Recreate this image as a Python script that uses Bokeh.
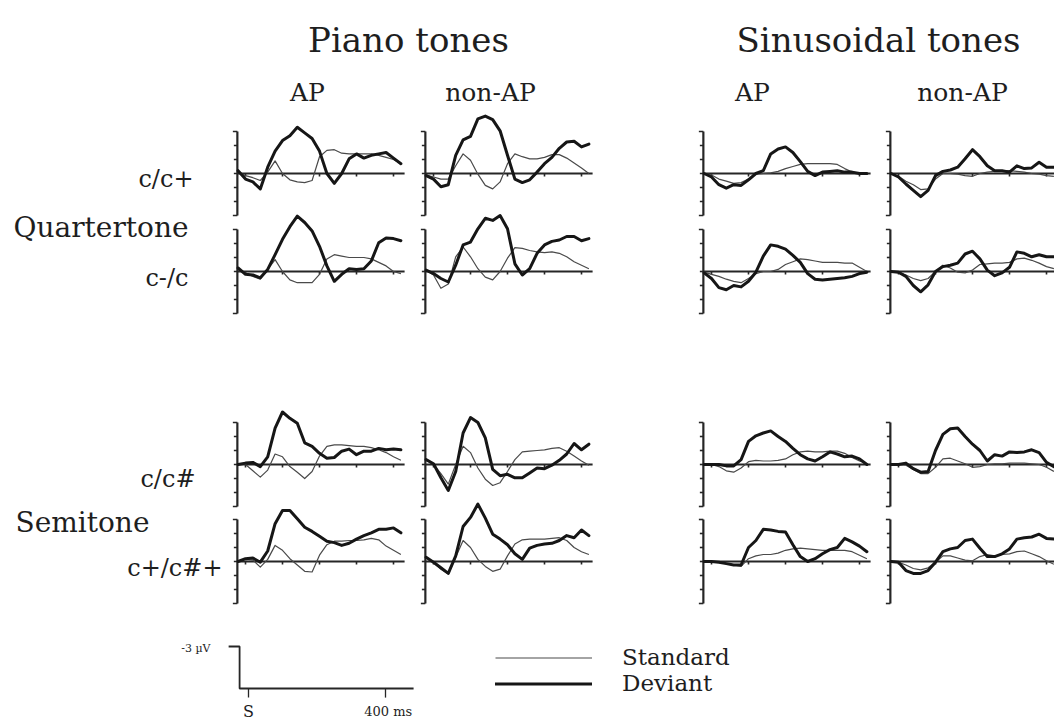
from bokeh.plotting import figure
from bokeh.models import Range1d, Legend, LegendItem
from bokeh.core.properties import value
from bokeh.embed import file_html
from bokeh.resources import INLINE

# ---------------- data (µV, negative plotted upward) ----------------
TIME_MS = [-20, 0, 20, 40, 60, 80, 100, 120, 140, 160, 180, 200, 220,
           240, 260, 280, 300, 320, 340, 360, 380, 400, 420]

PIANO_AP_CCPLUS_STD = [-0.1, 0.15, 0.3, 0.5, -0.1, -0.9, 0.0, 0.45, 0.6, 0.65, 0.5, -1.2, -1.65, -1.7, -1.45, -1.4, -1.4, -1.4, -1.4, -1.3, -1.15, -1.0, -0.7]
PIANO_AP_CCPLUS_DEV = [-0.2, 0.4, 0.6, 1.1, -0.45, -1.6, -2.35, -2.7, -3.3, -2.9, -2.5, -1.6, 0.0, 0.7, 0.0, -1.05, -1.4, -1.1, -1.3, -1.4, -1.5, -1.1, -0.7]
PIANO_AP_CMINUS_STD = [-0.1, 0.1, 0.35, 0.55, -0.15, -0.85, 0.0, 0.6, 0.8, 0.8, 0.8, 0.2, -0.9, -1.2, -1.1, -1.0, -1.0, -1.0, -0.9, -0.65, -0.4, 0.0, 0.15]
PIANO_AP_CMINUS_DEV = [-0.25, 0.2, 0.25, 0.45, -0.15, -1.2, -2.3, -3.2, -3.95, -3.5, -2.9, -1.8, -0.4, 0.7, 0.2, -0.2, -0.15, -0.2, -0.75, -2.05, -2.4, -2.35, -2.2]
PIANO_NAP_CCPLUS_STD = [0.1, 0.25, 0.4, 0.4, -0.55, -1.4, -0.95, 0.05, 0.85, 1.1, 0.6, -0.7, -1.4, -1.2, -1.05, -1.05, -1.15, -1.35, -1.35, -1.1, -0.75, -0.4, 0.0]
PIANO_NAP_CCPLUS_DEV = [0.15, 0.4, 0.95, 0.8, -1.3, -2.4, -2.65, -3.9, -4.1, -3.85, -3.05, -1.3, 0.4, 0.65, 0.45, -0.1, -0.7, -1.15, -1.8, -2.25, -2.3, -1.9, -2.1]
PIANO_NAP_CMINUS_STD = [-0.1, 0.25, 1.2, 0.9, -1.05, -1.75, -1.05, -0.2, 0.4, 0.6, 0.0, -0.95, -1.7, -1.65, -1.5, -1.4, -1.35, -1.4, -1.3, -1.05, -0.7, -0.45, -0.2]
PIANO_NAP_CMINUS_DEV = [-0.1, 0.15, 0.5, 0.75, -0.45, -1.9, -2.1, -3.05, -3.8, -3.65, -4.0, -3.05, -0.55, 0.25, -0.2, -1.3, -1.9, -2.15, -2.25, -2.5, -2.5, -2.2, -2.35]

SIN_AP_CCPLUS_STD = [0.0, 0.1, 0.4, 0.55, 0.7, 0.65, 0.4, 0.05, 0.0, -0.05, -0.15, -0.35, -0.5, -0.65, -0.7, -0.7, -0.7, -0.7, -0.65, -0.35, -0.1, 0.0, 0.0]
SIN_AP_CCPLUS_DEV = [0.0, 0.25, 0.8, 1.05, 0.8, 0.85, 0.45, 0.0, -0.2, -1.4, -1.75, -1.9, -1.5, -0.85, -0.15, 0.15, -0.1, -0.15, -0.2, -0.1, -0.1, 0.0, 0.0]
SIN_AP_CMINUS_STD = [0.05, 0.2, 0.35, 0.55, 0.7, 0.8, 0.5, 0.15, 0.0, 0.0, -0.15, -0.5, -0.7, -0.9, -0.85, -0.75, -0.65, -0.65, -0.65, -0.6, -0.6, -0.3, 0.0]
SIN_AP_CMINUS_DEV = [0.1, 0.5, 1.15, 1.3, 1.0, 1.1, 0.7, 0.05, -1.1, -1.9, -1.8, -1.6, -1.15, -0.65, 0.15, 0.55, 0.6, 0.55, 0.5, 0.45, 0.35, 0.15, 0.05]
SIN_NAP_CCPLUS_STD = [0.0, 0.2, 0.55, 0.8, 1.15, 1.1, 0.4, 0.0, 0.0, 0.05, 0.15, 0.2, 0.0, -0.1, -0.15, -0.2, -0.2, -0.15, -0.1, 0.0, 0.05, 0.15, 0.2]
SIN_NAP_CCPLUS_DEV = [0.0, 0.25, 0.75, 1.2, 1.65, 1.2, 0.15, -0.15, -0.25, -0.45, -1.05, -1.7, -1.2, -0.55, -0.2, -0.2, -0.1, -0.55, -0.35, -0.4, -0.8, -0.45, -0.45]
SIN_NAP_CMINUS_STD = [0.0, 0.05, 0.25, 0.5, 0.65, 0.5, 0.0, -0.45, -0.25, 0.05, 0.1, -0.1, -0.5, -0.55, -0.6, -0.6, -0.65, -0.9, -0.95, -0.8, -0.6, -0.35, -0.2]
SIN_NAP_CMINUS_DEV = [0.0, 0.05, 0.35, 1.0, 1.45, 0.95, 0.0, -0.35, -0.45, -0.6, -1.25, -1.45, -0.9, -0.1, 0.3, 0.1, -0.3, -1.4, -1.3, -1.05, -1.2, -1.05, -1.05]

PIANO_AP_CCSHARP_STD = [0.0, 0.0, 0.45, 0.9, 0.4, -0.75, -0.55, 0.15, 0.55, 1.0, 0.5, -0.6, -1.3, -1.4, -1.4, -1.35, -1.3, -1.3, -1.2, -1.05, -0.85, -0.55, -0.3]
PIANO_AP_CCSHARP_DEV = [0.0, -0.1, -0.15, 0.15, -0.55, -2.6, -3.75, -3.3, -2.95, -1.55, -1.3, -0.8, -0.45, -0.5, -0.95, -1.1, -0.7, -0.95, -0.95, -1.15, -1.05, -1.1, -1.05]
PIANO_AP_CPLUS_STD = [0.0, -0.15, -0.1, 0.4, -0.15, -1.15, -0.8, -0.2, 0.25, 0.7, 0.75, -0.45, -1.2, -1.45, -1.45, -1.5, -1.5, -1.55, -1.65, -1.55, -1.1, -0.8, -0.5]
PIANO_AP_CPLUS_DEV = [0.0, -0.2, -0.25, 0.05, -0.75, -2.7, -3.65, -3.65, -3.05, -2.45, -2.15, -1.8, -1.45, -1.35, -1.15, -1.3, -1.6, -1.85, -2.05, -2.3, -2.3, -2.4, -2.05]
PIANO_NAP_CCSHARP_STD = [-0.35, 0.0, 0.65, 1.4, 0.0, -1.3, -0.85, 0.25, 1.05, 1.5, 1.3, 0.5, -0.35, -0.9, -0.95, -1.0, -1.05, -1.15, -1.2, -0.95, -0.6, -0.25, 0.05]
PIANO_NAP_CCSHARP_DEV = [-0.35, -0.05, 0.95, 1.85, 0.5, -2.25, -3.35, -3.0, -1.9, 0.35, 0.8, 0.7, 0.95, 0.95, 0.6, 0.25, 0.3, 0.05, -0.3, -0.75, -1.5, -1.05, -1.45]
PIANO_NAP_CPLUS_STD = [-0.3, 0.05, 0.55, 0.9, -0.3, -1.5, -1.0, -0.15, 0.35, 0.7, 0.55, -0.4, -1.25, -1.55, -1.6, -1.6, -1.6, -1.65, -1.7, -1.5, -1.0, -0.7, -0.5]
PIANO_NAP_CPLUS_DEV = [-0.3, 0.05, 0.45, 0.85, -0.4, -2.5, -3.15, -4.1, -3.1, -1.95, -1.6, -1.2, -0.55, -0.15, -0.95, -1.15, -1.25, -1.3, -1.5, -1.85, -1.7, -2.25, -1.85]

SIN_AP_CCSHARP_STD = [0.0, 0.0, 0.15, 0.45, 0.55, 0.25, -0.2, -0.3, -0.25, -0.25, -0.3, -0.4, -0.7, -0.9, -0.95, -0.9, -0.9, -0.95, -0.95, -0.8, -0.5, -0.25, -0.05]
SIN_AP_CCSHARP_DEV = [0.0, 0.0, 0.0, 0.1, 0.1, -0.35, -1.65, -2.05, -2.25, -2.4, -2.0, -1.65, -1.15, -0.7, -0.4, -0.25, -0.55, -0.9, -0.75, -0.55, -0.6, -0.4, 0.0]
SIN_AP_CPLUS_STD = [0.0, 0.0, 0.05, 0.15, 0.25, 0.35, -0.2, -0.4, -0.5, -0.5, -0.6, -0.8, -0.9, -0.95, -0.9, -0.85, -0.8, -0.8, -0.8, -0.8, -0.7, -0.45, -0.2]
SIN_AP_CPLUS_DEV = [0.0, 0.0, 0.05, 0.15, 0.25, 0.25, -1.0, -1.5, -2.3, -2.25, -2.15, -2.1, -1.2, -0.35, 0.0, -0.2, -0.55, -0.85, -1.0, -1.65, -1.4, -1.1, -0.7]
SIN_NAP_CCSHARP_STD = [0.0, 0.0, 0.05, 0.35, 0.65, 0.65, 0.2, -0.4, -0.45, -0.25, -0.05, 0.2, 0.15, 0.0, -0.05, -0.05, -0.1, -0.1, -0.1, -0.05, 0.0, 0.2, 0.5]
SIN_NAP_CCSHARP_DEV = [0.0, 0.0, -0.1, 0.3, 0.55, 0.5, -1.0, -2.15, -2.55, -2.6, -2.0, -1.45, -1.0, -0.25, -0.7, -0.6, -0.9, -0.85, -0.9, -1.05, -0.85, -0.15, 0.15]
SIN_NAP_CPLUS_STD = [0.0, 0.05, 0.25, 0.5, 0.6, 0.45, 0.05, -0.4, -0.4, -0.25, -0.1, -0.05, -0.35, -0.5, -0.4, -0.5, -0.55, -0.7, -0.75, -0.55, -0.35, -0.05, 0.2]
SIN_NAP_CPLUS_DEV = [0.0, 0.05, 0.65, 0.85, 0.85, 0.65, 0.05, -0.7, -0.9, -1.0, -1.5, -1.6, -0.95, -0.35, -0.35, -0.55, -0.9, -1.6, -1.7, -1.75, -1.95, -1.65, -1.6]

GROUP_TITLES = ["Piano tones", "Sinusoidal tones"]
COLUMN_LABELS = ["AP", "non-AP", "AP", "non-AP"]
ROW_LABELS = ["c/c+", "c-/c", "c/c#", "c+/c#+"]
GROUP_LABELS = ["Quartertone", "Semitone"]
LEGEND_LABELS = ["Standard", "Deviant"]
Y_TICKS_UV = [-3, -2, -1, 0, 1, 2, 3]
X_TICKS_MS = [0, 100, 200, 300, 400]
CAL_UV = -3
CAL_MS = 400

PANELS = {
    (0, 0): (PIANO_AP_CCPLUS_STD, PIANO_AP_CCPLUS_DEV),
    (1, 0): (PIANO_AP_CMINUS_STD, PIANO_AP_CMINUS_DEV),
    (0, 1): (PIANO_NAP_CCPLUS_STD, PIANO_NAP_CCPLUS_DEV),
    (1, 1): (PIANO_NAP_CMINUS_STD, PIANO_NAP_CMINUS_DEV),
    (0, 2): (SIN_AP_CCPLUS_STD, SIN_AP_CCPLUS_DEV),
    (1, 2): (SIN_AP_CMINUS_STD, SIN_AP_CMINUS_DEV),
    (0, 3): (SIN_NAP_CCPLUS_STD, SIN_NAP_CCPLUS_DEV),
    (1, 3): (SIN_NAP_CMINUS_STD, SIN_NAP_CMINUS_DEV),
    (2, 0): (PIANO_AP_CCSHARP_STD, PIANO_AP_CCSHARP_DEV),
    (3, 0): (PIANO_AP_CPLUS_STD, PIANO_AP_CPLUS_DEV),
    (2, 1): (PIANO_NAP_CCSHARP_STD, PIANO_NAP_CCSHARP_DEV),
    (3, 1): (PIANO_NAP_CPLUS_STD, PIANO_NAP_CPLUS_DEV),
    (2, 2): (SIN_AP_CCSHARP_STD, SIN_AP_CCSHARP_DEV),
    (3, 2): (SIN_AP_CPLUS_STD, SIN_AP_CPLUS_DEV),
    (2, 3): (SIN_NAP_CCSHARP_STD, SIN_NAP_CCSHARP_DEV),
    (3, 3): (SIN_NAP_CPLUS_STD, SIN_NAP_CPLUS_DEV),
}

# ---------------- layout (pixels) ----------------
W, H = 1054, 722
COL_ZERO_PX = [245, 433, 711, 898]
ROW_ZERO_PX = [173, 271, 464, 561]
PX_PER_MS = 0.37
PX_PER_UV = 14.0
AXIS_START_MS = -22
AXIS_END_MS = 430
CAL_ZERO_X, CAL_ZERO_Y, CAL_PX_PER_MS = 248, 688, 0.3425

FONT_NAME = "DejaVu Serif"
SERIF = value(FONT_NAME)
TEXT_COLOR = "#1e1e1e"
THIN_COLOR = "#4a4a4a"
THICK_COLOR = "#161616"
AXIS_COLOR = "#262626"

p = figure(width=W, height=H, x_range=Range1d(0, W), y_range=Range1d(H, 0),
           output_backend="svg", toolbar_location=None, min_border=0,
           x_axis_type=None, y_axis_type=None)
p.grid.visible = False
p.outline_line_color = None
p.background_fill_color = "white"
p.border_fill_color = "white"


def x_range_for(zero_px, px_per_ms):
    return Range1d(start=(0 - zero_px) / px_per_ms, end=(W - zero_px) / px_per_ms)


def y_range_for(zero_px, px_per_uv):
    # negative µV plotted upward (ERP convention)
    return Range1d(start=(H - zero_px) / px_per_uv, end=(0 - zero_px) / px_per_uv)


for c, zx in enumerate(COL_ZERO_PX):
    p.extra_x_ranges[f"c{c}"] = x_range_for(zx, PX_PER_MS)
for r, zy in enumerate(ROW_ZERO_PX):
    p.extra_y_ranges[f"r{r}"] = y_range_for(zy, PX_PER_UV)
p.extra_x_ranges["cal"] = x_range_for(CAL_ZERO_X, CAL_PX_PER_MS)
p.extra_y_ranges["cal"] = y_range_for(CAL_ZERO_Y, PX_PER_UV)

tick_ms = 3.5 / PX_PER_MS
cap_ms = 4.5 / PX_PER_MS
tick_uv = 3.0 / PX_PER_UV

std_renderer = dev_renderer = None
for (r, c), (std, dev) in PANELS.items():
    xr, yr = f"c{c}", f"r{r}"
    p.segment(x0=[AXIS_START_MS], y0=[Y_TICKS_UV[0]], x1=[AXIS_START_MS], y1=[Y_TICKS_UV[-1]],
              x_range_name=xr, y_range_name=yr, line_color=AXIS_COLOR, line_width=2.2)
    lens = [cap_ms if v in (Y_TICKS_UV[0], Y_TICKS_UV[-1]) else tick_ms for v in Y_TICKS_UV]
    p.segment(x0=[AXIS_START_MS] * len(Y_TICKS_UV), y0=Y_TICKS_UV,
              x1=[AXIS_START_MS - l for l in lens], y1=Y_TICKS_UV,
              x_range_name=xr, y_range_name=yr, line_color=AXIS_COLOR, line_width=1.6)
    p.segment(x0=[AXIS_START_MS], y0=[0], x1=[AXIS_END_MS], y1=[0],
              x_range_name=xr, y_range_name=yr, line_color=AXIS_COLOR, line_width=2)
    p.segment(x0=X_TICKS_MS, y0=[0] * len(X_TICKS_MS), x1=X_TICKS_MS, y1=[tick_uv] * len(X_TICKS_MS),
              x_range_name=xr, y_range_name=yr, line_color=AXIS_COLOR, line_width=1.6)
    rs = p.line(TIME_MS, std, x_range_name=xr, y_range_name=yr,
                line_color=THIN_COLOR, line_width=1.2, line_join="round")
    rd = p.line(TIME_MS, dev, x_range_name=xr, y_range_name=yr,
                line_color=THICK_COLOR, line_width=3, line_join="round", line_cap="round")
    if std_renderer is None:
        std_renderer, dev_renderer = rs, rd

# ---------------- calibration bar ----------------
p.line(x=[-58, -26, -26, CAL_MS + 82], y=[CAL_UV, CAL_UV, 0, 0], x_range_name="cal", y_range_name="cal",
       line_color=AXIS_COLOR, line_width=1.8)
p.segment(x0=[0, CAL_MS], y0=[0, 0], x1=[0, CAL_MS], y1=[0.65, 0.65],
          x_range_name="cal", y_range_name="cal", line_color=AXIS_COLOR, line_width=1.3)
p.text(x=[-111], y=[CAL_UV + 0.15], text=[f"{CAL_UV} \u00b5V"], x_range_name="cal", y_range_name="cal",
       text_font=SERIF, text_font_size="11px", text_align="right", text_baseline="alphabetic",
       text_color=TEXT_COLOR)
p.text(x=[0], y=[1.65], text=["S"], x_range_name="cal", y_range_name="cal",
       text_font=SERIF, text_font_size="16px", text_align="center", text_baseline="alphabetic",
       text_color=TEXT_COLOR)
p.text(x=[CAL_MS + 8], y=[1.65], text=[f"{CAL_MS} ms"], x_range_name="cal", y_range_name="cal",
       text_font=SERIF, text_font_size="13px", text_align="center", text_baseline="alphabetic",
       text_color=TEXT_COLOR)

# ---------------- texts ----------------
p.text(x=[408, 878], y=[39, 39], text=GROUP_TITLES, text_font=SERIF, text_font_size="34px",
       text_align="center", text_baseline="alphabetic", text_color=TEXT_COLOR)
p.text(x=[307, 490, 752, 962], y=[92, 92, 92, 92], text=COLUMN_LABELS, text_font=SERIF,
       text_font_size="25px", text_align="center", text_baseline="alphabetic", text_color=TEXT_COLOR)
p.text(x=[193, 188, 195, 222], y=[178, 277, 478, 567], text=ROW_LABELS, text_font=SERIF,
       text_font_size="24px", text_align="right", text_baseline="alphabetic", text_color=TEXT_COLOR)
p.text(x=[13, 15], y=[227, 522], text=GROUP_LABELS, text_font=SERIF,
       text_font_size="28px", text_align="left", text_baseline="alphabetic", text_color=TEXT_COLOR)

# ---------------- legend ----------------
legend = Legend(items=[LegendItem(label=LEGEND_LABELS[0], renderers=[std_renderer]),
                       LegendItem(label=LEGEND_LABELS[1], renderers=[dev_renderer])],
                location=(495, 722 - 696), glyph_width=97, glyph_height=25, spacing=0,
                label_standoff=30, padding=5, margin=0, border_line_color=None,
                background_fill_alpha=0, label_text_font=FONT_NAME, label_text_font_size="23px",
                label_text_color=TEXT_COLOR, label_height=25)
p.add_layout(legend, "center")

open("out.html", "w").write(file_html(p, INLINE))
